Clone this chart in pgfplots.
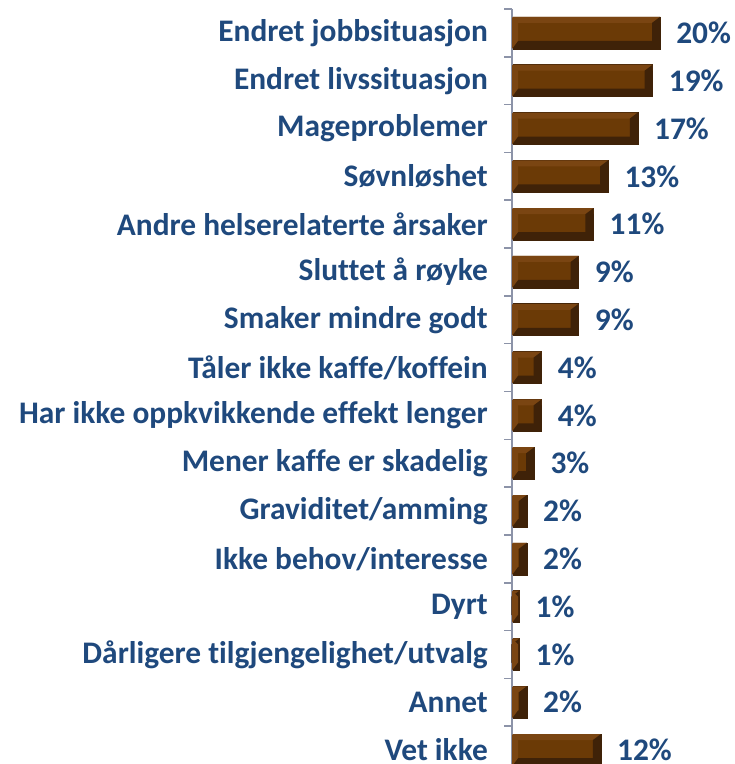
\documentclass[border=0pt]{standalone}
\usepackage{pgfplots}
\usepackage{pgfplotstable}
\pgfplotsset{compat=1.18}
\usepackage{fontspec}
\setmainfont[Ligatures=NoCommon]{Carlito}
\definecolor{lbl}{HTML}{1F497D}
\definecolor{barfill}{HTML}{6B3A06}
\definecolor{bardark}{HTML}{3F2208}
\definecolor{barlight}{HTML}{7A4512}
\definecolor{axgray}{HTML}{8C93A8}
% right-end bevel (dark), drawn at the bar's end point
\pgfdeclareplotmark{bevR}{%
  \pgfpathmoveto{\pgfpoint{0bp}{16bp}}%
  \pgfpathlineto{\pgfpoint{-8bp}{10bp}}%
  \pgfpathlineto{\pgfpoint{-8bp}{-8bp}}%
  \pgfpathlineto{\pgfpoint{0bp}{-16bp}}%
  \pgfpathclose\pgfusepathqfill}
% left-end bevel (light), drawn at the bar's base
\pgfdeclareplotmark{bevL}{%
  \pgfpathmoveto{\pgfpoint{0bp}{16bp}}%
  \pgfpathlineto{\pgfpoint{6bp}{10bp}}%
  \pgfpathlineto{\pgfpoint{6bp}{-8bp}}%
  \pgfpathlineto{\pgfpoint{0bp}{-16bp}}%
  \pgfpathclose\pgfusepathqfill}
\pgfplotstableread{
v c z
20 0 0
19 1 0
17 2 0
13 3 0
11 4 0
9 5 0
9 6 0
4 7 0
4 8 0
3 9 0
2 10 0
2 11 0
1 12 0
1 13 0
2 14 0
12 15 0
}\data
\begin{document}
\begin{tikzpicture}[x=1bp,y=1bp]
\path[use as bounding box] (0,0) rectangle (735,764);
\clip (0,0) rectangle (735,764);
\begin{axis}[at={(512bp,755bp)}, anchor=north west, scale only axis,
  width=222bp, height=765bp, xmin=0, xmax=30, ymin=-0.5, ymax=15.5,
  y dir=reverse,
  axis x line=none, axis y line*=left, axis on top,
  y axis line style={draw=axgray, line width=1.5bp},
  ytick={0,...,15}, major tick length=0pt,
  minor ytick={-0.5,0.5,...,15.5}, minor tick length=8bp, tick align=outside,
  minor tick style={draw=axgray, line width=1.5bp},
  yticklabels={Endret jobbsituasjon,Endret livssituasjon,Mageproblemer,Søvnløshet,Andre helserelaterte årsaker,Sluttet å røyke,Smaker mindre godt,Tåler ikke kaffe/koffein,Har ikke oppkvikkende effekt lenger,Mener kaffe er skadelig,Graviditet/amming,Ikke behov/interesse,Dyrt,Dårligere tilgjengelighet/utvalg,Annet,Vet ikke},
  yticklabel style={font=\bfseries\fontsize{31.5}{31.5}\selectfont, text=lbl, anchor=east, inner sep=0pt, xshift=-24bp},
  /pgf/number format/assume math mode=true,
  clip=false]
\addplot[xbar, bar width=0.67, bar shift=0, fill=barfill, draw=bardark, line width=0.6bp,
  point meta=x,
  nodes near coords={\pgfmathprintnumber\pgfplotspointmeta\%},
  nodes near coords style={font=\bfseries\fontsize{31.5}{31.5}\selectfont, text=lbl, anchor=west, inner sep=0pt, xshift=16bp}]
  table[x=v, y=c] {\data};
\addplot[xbar, bar width=0.1255, bar shift=-0.272, fill=barlight, draw=none] table[x=v, y=c] {\data};
\addplot[xbar, bar width=0.167, bar shift=0.251, fill=bardark, draw=none] table[x=v, y=c] {\data};
\addplot[only marks, mark=bevR, mark options={fill=bardark, draw=none}] table[x=v, y=c] {\data};
\addplot[only marks, mark=bevL, mark options={fill=barlight, draw=none}] table[x=z, y=c] {\data};
\end{axis}
\end{tikzpicture}
\end{document}
